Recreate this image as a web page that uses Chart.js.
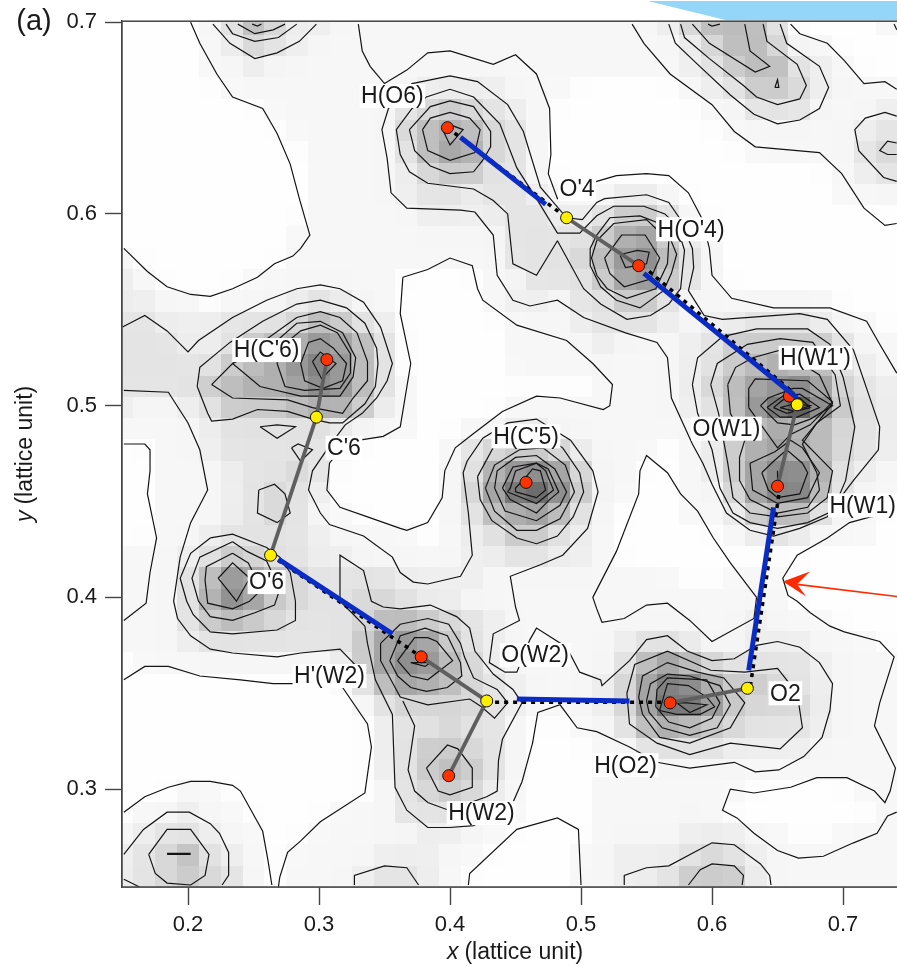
<!DOCTYPE html>
<html>
<head>
<meta charset="utf-8">
<script src="https://cdn.jsdelivr.net/npm/chart.js@4"></script>
<style>
html, body { margin: 0; padding: 0; background: #fff; overflow: hidden; }
canvas { display: block; }
</style>
</head>
<body>
<canvas id="map" width="897" height="966"></canvas>
<script>
// axis ticks, lattice units
const xTicks = [0.2, 0.3, 0.4, 0.5, 0.6, 0.7];
const yTicks = [0.3, 0.4, 0.5, 0.6, 0.7];

// density map, one char per cell (0 = white ... e = dark), top row first
const densityRows = [
"000013642211111111111111124666300001",
"000012432111111111111111112466411000",
"000011211111111111111111112356632100",
"000001111111112222111000001235542111",
"000000011111134543210000000113331112",
"000000001111146764310000000011111123",
"000000000111136874310000000001111134",
"000000000111124553310000000000000123",
"000000000111123323321112210000000111",
"000000000111112222332235531000000000",
"000000001111111111333357852100000000",
"100000001111111111333469a63100000000",
"210000111111100001133358953100000000",
"221101112321100001221335531111111000",
"332223334653200000111233321223332110",
"333223567986300000111121112355555311",
"333335679b96300000111111112356766321",
"333356778a963100000000111124689a8432",
"211235556775210000111111112369cea532",
"111123333321110011221111111236766432",
"001123333310000134554211101257876432",
"0011123343000001379a8411001258aa7321",
"001112343200000148cda511001148bb6311",
"001112343110000136786310001125663110",
"001123333211110123553210000012321110",
"111235433221111122332210000000000000",
"111369864333322221111111110011100000",
"11137a854334432211111111111111100000",
"111356543334665432111111111112111000",
"111233333335898532111112332112221110",
"0111111111258a9642111113686433332111",
"0000000000036876432111248ba755432111",
"0000000000013444432111248cc954442111",
"000000000000233433100113676543332111",
"000000000000235543100011333322221111",
"000000000000235653100011111111111111",
"000110000000134542100011111110000011",
"011211000011133331100011111100000001",
"123321100111112211000011112221100111",
"234632101111222110000112223432111111",
"234543101112332100000112235552111111"
];
const densityGreys = [254, 247, 238, 228, 216, 203, 188, 175, 162, 150, 138, 126, 113, 100, 80];

// contour lines, [x, y] in lattice units
const openContours = [
  // big outer lines
  [[.202,.700],[.209,.689],[.222,.673],[.234,.661],[.257,.655],[.268,.642],[.278,.626],[.285,.608],[.293,.589],[.286,.582],[.280,.578],[.266,.574],[.253,.567],[.234,.561],[.217,.557],[.202,.558],[.184,.562],[.169,.570],[.151,.582]],
  [[.330,.699],[.333,.685],[.339,.677],[.350,.668],[.367,.675],[.383,.684],[.400,.685],[.433,.678],[.450,.683],[.466,.673],[.476,.655],[.477,.631],[.475,.621],[.482,.608],[.495,.612],[.512,.617],[.527,.620],[.550,.621],[.567,.620],[.582,.611],[.592,.598],[.598,.582],[.600,.568],[.615,.556],[.647,.551],[.690,.551],[.718,.544],[.728,.532],[.741,.517]],
  [[.150,.541],[.167,.547],[.184,.539],[.200,.528],[.208,.534],[.234,.546],[.260,.555],[.283,.561],[.301,.563],[.316,.561],[.334,.554],[.347,.541],[.356,.522],[.352,.513],[.344,.504],[.333,.496],[.320,.490],[.308,.479],[.295,.466],[.292,.456],[.301,.444],[.308,.438],[.334,.432],[.356,.421],[.362,.413],[.372,.408],[.383,.407],[.408,.411],[.417,.422],[.414,.444],[.410,.465],[.413,.471],[.425,.483],[.444,.491],[.466,.493],[.492,.482],[.509,.466],[.513,.455],[.505,.436],[.486,.422],[.469,.417],[.446,.411],[.450,.395],[.453,.388],[.433,.381],[.430,.366],[.442,.361],[.451,.361],[.461,.378],[.466,.384],[.489,.374],[.499,.361],[.515,.357],[.516,.354],[.537,.367],[.550,.378],[.566,.380],[.581,.372],[.600,.367],[.617,.368],[.634,.375],[.650,.377],[.667,.374],[.682,.366],[.692,.355],[.690,.341],[.684,.327],[.670,.317],[.651,.310],[.633,.309],[.617,.314],[.583,.311],[.558,.314],[.537,.322],[.512,.330],[.497,.332],[.484,.344],[.467,.340],[.463,.324],[.455,.304],[.448,.293],[.418,.281],[.400,.280],[.383,.280],[.367,.289],[.358,.301],[.356,.339],[.343,.357],[.337,.376],[.335,.385],[.325,.392],[.316,.398],[.316,.422],[.334,.414],[.340,.398],[.349,.395],[.362,.394],[.385,.396],[.405,.390],[.415,.384],[.419,.372],[.433,.360],[.448,.352],[.455,.345],[.440,.326],[.437,.315],[.436,.299],[.428,.296],[.399,.289],[.383,.293],[.373,.299],[.368,.310],[.373,.333],[.364,.346]],
  // left side
  [[.151,.508],[.185,.507],[.200,.491],[.209,.477],[.215,.456],[.202,.439],[.194,.421],[.189,.398],[.192,.389],[.202,.380],[.217,.373],[.234,.371],[.268,.369],[.286,.371],[.316,.373],[.333,.361]],
  [[.151,.480],[.167,.480],[.171,.477],[.171,.466],[.169,.454],[.176,.431],[.171,.413],[.168,.397],[.151,.388]],
  [[.151,.357],[.167,.364],[.185,.364],[.209,.359],[.240,.357],[.265,.355],[.280,.355],[.318,.353],[.337,.334],[.340,.322],[.335,.298],[.301,.283],[.286,.273],[.276,.267],[.270,.254],[.269,.249]],
  // right side, by the arrow
  [[.741,.444],[.721,.442],[.705,.439],[.688,.431],[.665,.422],[.654,.410],[.658,.401],[.665,.398],[.675,.392],[.690,.385],[.701,.382],[.728,.377],[.739,.369],[.728,.345],[.724,.333],[.740,.311],[.736,.299],[.732,.293],[.724,.299],[.703,.306],[.680,.306],[.660,.301],[.632,.298],[.614,.300],[.608,.289],[.619,.285],[.632,.277],[.650,.268],[.666,.264],[.685,.265],[.708,.272],[.726,.277],[.734,.286],[.741,.288]],
  // peak cut by the top edge
  [[.219,.699],[.232,.689],[.251,.681],[.268,.684],[.285,.690],[.298,.699]],
  [[.229,.699],[.234,.694],[.251,.690],[.269,.692],[.283,.699]],
  [[.238,.699],[.251,.694],[.265,.696],[.274,.699]],
  [[.249,.699],[.253,.698],[.256,.699]],
  // top right
  [[.539,.699],[.548,.689],[.568,.673],[.600,.657],[.617,.643],[.633,.635],[.682,.632],[.699,.621],[.716,.603],[.732,.594],[.741,.595]],
  [[.567,.699],[.572,.689],[.589,.678],[.614,.662],[.632,.652],[.650,.647],[.667,.649],[.682,.655],[.689,.666],[.682,.677],[.657,.689],[.652,.699]],
  [[.576,.699],[.579,.692],[.598,.681],[.624,.667],[.634,.661],[.650,.657],[.667,.660],[.672,.667],[.665,.678],[.642,.690],[.639,.699]],
  [[.585,.699],[.598,.689],[.633,.674],[.644,.677],[.629,.685],[.625,.699]],
  [[.597,.699],[.600,.698],[.606,.699]],
  [[.660,.699],[.667,.694],[.688,.689],[.701,.680],[.716,.668],[.732,.669],[.741,.665]],
  [[.739,.699],[.741,.696]],
  [[.741,.651],[.732,.653],[.717,.650],[.709,.644],[.712,.633],[.731,.619],[.741,.617]],
  [[.741,.637],[.734,.638],[.728,.633],[.734,.631],[.741,.631]],
  // cut by the bottom edge
  [[.151,.288],[.167,.296],[.185,.301],[.202,.304],[.217,.304],[.234,.302],[.240,.299],[.257,.278],[.261,.263],[.264,.250]],
  [[.151,.266],[.166,.279],[.184,.288],[.201,.288],[.217,.282],[.224,.277],[.231,.267],[.231,.255],[.226,.250]],
  [[.151,.253],[.163,.249]],
  [[.327,.250],[.327,.255],[.350,.260],[.367,.259],[.376,.250]],
  [[.414,.250],[.415,.256],[.451,.279],[.482,.285],[.498,.279],[.500,.250]],
  [[.533,.250],[.533,.255],[.550,.259],[.567,.260],[.600,.272],[.617,.271],[.637,.261],[.644,.255],[.645,.250]],
  [[.582,.250],[.591,.258],[.600,.261],[.617,.260],[.624,.255],[.623,.250]],
  [[.650,.466],[.650,.459]],
  [[.184,.266],[.202,.266]],
  [[.184,.2665],[.202,.2665]]
];

const closedContours = [
  // long ring from H(O6) round to W1
  [[.353,.655],[.371,.668],[.400,.672],[.421,.669],[.444,.657],[.456,.643],[.469,.614],[.489,.598],[.501,.597],[.512,.606],[.518,.608],[.550,.610],[.567,.606],[.575,.598],[.585,.582],[.586,.572],[.582,.560],[.594,.547],[.608,.545],[.667,.548],[.688,.545],[.708,.529],[.721,.503],[.728,.489],[.727,.477],[.708,.461],[.698,.452],[.688,.442],[.667,.436],[.647,.432],[.629,.435],[.611,.444],[.600,.459],[.593,.470],[.585,.480],[.569,.504],[.566,.525],[.558,.533],[.534,.538],[.502,.546],[.482,.555],[.461,.552],[.448,.555],[.436,.568],[.433,.589],[.419,.601],[.408,.602],[.367,.603],[.355,.611],[.352,.629],[.348,.644]],
  [[.482,.586],[.466,.568],[.448,.574],[.444,.600],[.433,.607],[.418,.613],[.383,.616],[.369,.622],[.362,.631],[.359,.644],[.371,.655],[.382,.661],[.400,.665],[.418,.661],[.438,.647],[.451,.624],[.466,.608],[.482,.590],[.499,.590],[.512,.599],[.525,.604],[.548,.604],[.564,.600],[.573,.594],[.579,.581],[.576,.561],[.567,.553],[.553,.547],[.535,.545],[.515,.553],[.502,.561]],
  // H(O'4)
  [[.512,.589],[.522,.598],[.545,.599],[.564,.594],[.573,.579],[.569,.569],[.563,.560],[.545,.551],[.527,.555],[.515,.562],[.507,.573],[.507,.582]],
  [[.512,.586],[.525,.595],[.550,.597],[.567,.586],[.566,.574],[.557,.561],[.535,.556],[.520,.561],[.512,.568],[.508,.577]],
  [[.518,.577],[.531,.589],[.549,.589],[.560,.577],[.553,.566],[.533,.562],[.522,.569]],
  [[.530,.578],[.534,.572],[.550,.574],[.552,.580],[.543,.581],[.531,.579]],
  // H(O6)
  [[.369,.644],[.373,.633],[.385,.625],[.400,.621],[.418,.622],[.425,.628],[.431,.635],[.431,.643],[.418,.656],[.400,.659],[.385,.656]],
  [[.379,.644],[.383,.633],[.400,.628],[.419,.632],[.423,.644],[.415,.650],[.400,.653],[.385,.650]],
  [[.395,.643],[.400,.636],[.410,.644],[.398,.647]],
  // H(C'6)
  [[.207,.510],[.209,.520],[.232,.533],[.257,.544],[.283,.553],[.301,.555],[.321,.551],[.335,.543],[.344,.530],[.345,.522],[.343,.510],[.335,.501],[.318,.491],[.308,.491],[.295,.493],[.276,.497],[.253,.498],[.234,.493],[.218,.492],[.215,.496]],
  [[.218,.511],[.234,.522],[.283,.546],[.301,.549],[.316,.546],[.329,.538],[.337,.523],[.337,.513],[.326,.504],[.318,.496],[.295,.499],[.276,.503],[.234,.504]],
  [[.234,.522],[.255,.510],[.286,.505],[.316,.505],[.326,.515],[.328,.525],[.318,.538],[.301,.544],[.283,.543],[.263,.531]],
  [[.268,.522],[.274,.510],[.289,.508],[.316,.509],[.324,.517],[.324,.527],[.314,.538],[.301,.542],[.286,.539],[.270,.530]],
  [[.286,.522],[.289,.513],[.303,.509],[.318,.513],[.321,.522],[.311,.530],[.301,.535],[.292,.533]],
  [[.295,.523],[.302,.514],[.313,.522],[.301,.528]],
  [[.255,.489],[.268,.490],[.282,.489],[.268,.483]],
  [[.279,.478],[.284,.480],[.295,.477],[.286,.471]],
  [[.254,.456],[.266,.459],[.274,.454],[.278,.444],[.268,.439],[.253,.444]],
  // white hollow in the middle
  [[.364,.567],[.383,.571],[.400,.577],[.417,.573],[.421,.561],[.425,.555],[.451,.542],[.489,.534],[.509,.522],[.524,.511],[.522,.500],[.517,.498],[.484,.504],[.466,.505],[.440,.497],[.417,.485],[.404,.478],[.396,.466],[.394,.452],[.383,.439],[.367,.435],[.362,.436],[.337,.442],[.316,.447],[.306,.456],[.308,.470],[.316,.477],[.331,.482],[.349,.484],[.362,.489],[.370,.522],[.362,.548]],
  // O'6
  [[.217,.431],[.234,.433],[.260,.426],[.270,.421],[.278,.413],[.282,.398],[.282,.388],[.268,.383],[.234,.381],[.217,.382],[.204,.391],[.199,.398],[.194,.410],[.202,.423]],
  [[.234,.429],[.245,.424],[.260,.419],[.270,.404],[.266,.396],[.251,.392],[.234,.388],[.217,.390],[.208,.398],[.203,.410],[.209,.421]],
  [[.234,.423],[.246,.418],[.256,.404],[.247,.398],[.234,.394],[.215,.397],[.213,.409],[.214,.416]],
  [[.223,.410],[.234,.418],[.247,.410],[.237,.398]],
  // H(C'5)
  [[.421,.463],[.423,.451],[.432,.440],[.451,.431],[.466,.428],[.482,.432],[.494,.442],[.502,.455],[.499,.465],[.486,.478],[.466,.487],[.436,.482]],
  [[.427,.457],[.434,.445],[.451,.435],[.466,.435],[.484,.441],[.495,.455],[.488,.469],[.471,.478],[.453,.477],[.434,.469]],
  [[.434,.457],[.442,.445],[.466,.440],[.484,.448],[.489,.455],[.480,.467],[.466,.474],[.450,.473],[.436,.466]],
  [[.440,.457],[.446,.451],[.466,.444],[.476,.451],[.483,.455],[.475,.467],[.466,.470],[.448,.468]],
  [[.444,.455],[.466,.449],[.479,.456],[.473,.466],[.466,.470],[.450,.466],[.446,.457]],
  [[.450,.455],[.466,.452],[.473,.456],[.469,.466],[.463,.467],[.457,.462],[.450,.457]],
  // W1 double peak
  [[.585,.511],[.589,.496],[.600,.477],[.606,.457],[.616,.444],[.629,.439],[.650,.436],[.673,.439],[.692,.445],[.702,.461],[.709,.489],[.700,.515],[.690,.532],[.673,.540],[.634,.540],[.608,.536],[.589,.525]],
  [[.599,.511],[.605,.496],[.612,.470],[.616,.452],[.629,.444],[.650,.442],[.673,.444],[.688,.452],[.692,.466],[.669,.482],[.680,.491],[.698,.500],[.694,.516],[.677,.533],[.652,.535],[.627,.532],[.604,.522]],
  [[.612,.511],[.614,.496],[.625,.482],[.621,.473],[.621,.461],[.629,.451],[.650,.444],[.673,.447],[.682,.456],[.680,.465],[.669,.480],[.679,.490],[.692,.501],[.682,.516],[.652,.529],[.631,.525],[.618,.520]],
  [[.628,.499],[.650,.478],[.660,.485],[.675,.490],[.692,.502],[.673,.513],[.633,.514],[.628,.509]],
  [[.629,.470],[.631,.456],[.650,.449],[.673,.452],[.682,.465],[.669,.478],[.660,.482],[.648,.476]],
  [[.638,.465],[.643,.456],[.650,.452],[.667,.454],[.673,.465],[.669,.470],[.657,.477],[.647,.471]],
  [[.637,.500],[.650,.491],[.663,.490],[.675,.493],[.692,.500],[.669,.509],[.662,.509],[.643,.504]],
  [[.642,.499],[.652,.494],[.665,.494],[.682,.499],[.667,.506],[.654,.505]],
  [[.647,.499],[.657,.496],[.675,.499],[.667,.504],[.654,.503]],
  [[.652,.499],[.663,.501],[.675,.500],[.663,.497]],
  // lobe left of the blue bond
  [[.634,.400],[.632,.389],[.600,.377],[.583,.388],[.566,.397],[.550,.396],[.533,.389],[.516,.387],[.512,.394],[.509,.400],[.527,.424],[.544,.454],[.545,.466],[.550,.474],[.566,.465],[.576,.454],[.589,.445],[.601,.431],[.614,.418]],
  // H(O2)
  [[.535,.350],[.541,.365],[.566,.372],[.599,.362],[.625,.361],[.650,.363],[.665,.350],[.669,.332],[.652,.321],[.614,.324],[.583,.318],[.558,.324],[.537,.334]],
  [[.544,.348],[.547,.359],[.566,.366],[.589,.361],[.609,.358],[.625,.345],[.614,.332],[.583,.324],[.560,.327],[.547,.339]],
  [[.550,.346],[.553,.355],[.566,.360],[.583,.359],[.606,.354],[.614,.344],[.604,.332],[.583,.328],[.562,.332],[.552,.340]],
  [[.557,.343],[.558,.352],[.566,.358],[.596,.357],[.606,.345],[.600,.337],[.583,.332],[.567,.335]],
  [[.560,.341],[.566,.355],[.582,.354],[.596,.348],[.602,.343],[.591,.339],[.573,.339]],
  [[.573,.345],[.583,.340],[.596,.344],[.581,.345]],
  // H'(W2), H(W2)
  [[.347,.376],[.362,.386],[.383,.389],[.399,.386],[.408,.376],[.411,.369],[.418,.358],[.436,.352],[.444,.345],[.434,.337],[.424,.343],[.415,.347],[.383,.344],[.362,.348],[.347,.367]],
  [[.354,.367],[.362,.380],[.381,.384],[.398,.380],[.408,.366],[.409,.359],[.398,.353],[.382,.351],[.370,.353],[.360,.359]],
  [[.360,.367],[.373,.379],[.383,.379],[.390,.377],[.402,.367],[.383,.357],[.370,.359]],
  [[.370,.366],[.385,.366],[.381,.364]],
  [[.382,.311],[.398,.323],[.406,.321],[.417,.311],[.417,.301],[.400,.297],[.391,.299]],
  // lower left and top right islets
  [[.170,.266],[.184,.279],[.202,.279],[.216,.266],[.213,.255],[.202,.250],[.184,.251],[.175,.256]],
  [[.648,.666],[.650,.670],[.651,.666]]
];

// atoms
const hydrogenAtoms = [[.398,.645],[.544,.573],[.306,.524],[.458,.460],[.659,.505],[.650,.458],[.378,.369],[.399,.307],[.568,.345]];
const heavyAtoms = [[.489,.598],[.298,.494],[.263,.422],[.665,.5005],[.428,.346],[.627,.3526]];

// bonds
const covalentBonds = [
  [[.489,.598],[.544,.573]],
  [[.306,.524],[.298,.494]],
  [[.298,.494],[.263,.422]],
  [[.665,.5005],[.650,.458]],
  [[.378,.369],[.428,.346]],
  [[.428,.346],[.399,.307]],
  [[.568,.345],[.627,.3526]]
];
const hydrogenBonds = [
  [[.408,.640],[.473,.605]],
  [[.548,.569],[.665,.504]],
  [[.647,.447],[.628,.362]],
  [[.537,.346],[.451,.347]],
  [[.356,.381],[.269,.420]]
];
const dottedBonds = [
  [[.398,.645],[.489,.598]],
  [[.552,.570],[.660,.508]],
  [[.652,.458],[.629,.3526]],
  [[.568,.3453],[.428,.3453]],
  [[.263,.422],[.378,.369]]
];

const arrowLine = [[.7412,.4005],[.665,.4068]];
const arrowHead = [[.6542,.4083],[.6748,.4135],[.6649,.4068],[.6718,.4005]];
const cornerWedge = [[.551,.711],[.611,.701],[.7412,.701],[.7412,.711]];

const labelTexts = ["H(O6)", "O'4", "H(O'4)", "H(W1')", "O(W1)", "H(C'6)", "C'6", "H(C'5)", "H(W1)", "O'6", "O(W2)", "H'(W2)", "O2", "H(O2)", "H(W2)"];
const labelX = [.356, .497, .584, .679, .611, .260, .319, .458, .715, .260, .465, .308, .656, .534, .424];
const labelY = [.6615, .613, .592, .525, .488, .529, .478, .484, .448, .408, .370, .359, .350, .3125, .2875];

const FONT = '"Liberation Sans", Arial, sans-serif';
const toPoints = list => list.map(p => ({ x: p[0], y: p[1] }));

function lineSet(points, color, width, order, dash) {
    return {
        data: toPoints(points),
        showLine: true,
        borderColor: color,
        borderWidth: width,
        borderDash: dash || [],
        pointRadius: 0,
        tension: 0,
        order: order
    };
}

const datasets = [];
openContours.forEach(c => datasets.push(lineSet(c, "#141414", 1.2, 9)));
closedContours.forEach(c => datasets.push(lineSet(c.concat([c[0]]), "#141414", 1.2, 9)));
dottedBonds.forEach(b => datasets.push(lineSet(b, "#000", 3.5, 8, [4, 5])));
covalentBonds.forEach(b => datasets.push(lineSet(b, "#5f5f5f", 3.8, 5)));
datasets.push({
    data: toPoints(hydrogenAtoms),
    backgroundColor: "#ff3300",
    borderColor: "#111",
    borderWidth: 1,
    pointRadius: 6,
    order: 4
});
hydrogenBonds.forEach(b => datasets.push(lineSet(b, "#0a2cc4", 5, 3)));
datasets.push({
    data: toPoints(heavyAtoms),
    backgroundColor: "#ffee00",
    borderColor: "#111",
    borderWidth: 1,
    pointRadius: 6,
    order: 2
});
datasets.push(lineSet(arrowLine, "#ff2a00", 1.6, 1));

function fillPolygon(ctx, chart, points, color) {
    const sx = chart.scales.x, sy = chart.scales.y;
    ctx.fillStyle = color;
    ctx.beginPath();
    points.forEach((p, i) => {
        const px = sx.getPixelForValue(p[0]), py = sy.getPixelForValue(p[1]);
        if (i === 0) ctx.moveTo(px, py); else ctx.lineTo(px, py);
    });
    ctx.closePath();
    ctx.fill();
}

// grey of one cell, softened a little with its neighbours
function cellGrey(r, k) {
    const at = (i, j) => {
        const row = densityRows[Math.min(densityRows.length - 1, Math.max(0, i))];
        return densityGreys[parseInt(row[Math.min(row.length - 1, Math.max(0, j))], 16)];
    };
    const around = (at(r - 1, k) + at(r + 1, k) + at(r, k - 1) + at(r, k + 1)) / 4;
    return Math.round(0.75 * at(r, k) + 0.25 * around);
}

const densityMap = {
    id: "densityMap",
    beforeDatasetsDraw(chart) {
        const { ctx, chartArea: a, scales: { x: sx, y: sy } } = chart;
        ctx.save();
        ctx.beginPath();
        ctx.rect(a.left, a.top, a.right - a.left, a.bottom - a.top);
        ctx.clip();
        const last = densityRows.length - 1;
        densityRows.forEach((row, r) => {
            const yc = 0.2546 + (last - r) / 90;
            const top = Math.round(sy.getPixelForValue(yc + 1 / 180));
            const bot = Math.round(sy.getPixelForValue(yc - 1 / 180));
            for (let k = 0; k < row.length; k++) {
                const xc = 0.15 + k / 60;
                const left = Math.round(sx.getPixelForValue(xc - 1 / 120));
                const right = Math.round(sx.getPixelForValue(xc + 1 / 120));
                const g = cellGrey(r, k);
                ctx.fillStyle = "rgb(" + g + "," + g + "," + g + ")";
                ctx.fillRect(left, top, right - left, bot - top);
            }
        });
        ctx.restore();
    },
    afterDatasetsDraw(chart) {
        const { ctx, chartArea: a, scales: { x: sx, y: sy } } = chart;
        ctx.save();
        fillPolygon(ctx, chart, cornerWedge, "#93d6f8");
        fillPolygon(ctx, chart, arrowHead, "#ff2a00");

        ctx.strokeStyle = "#444";
        ctx.lineWidth = 1.5;
        ctx.strokeRect(a.left, a.top, a.right - a.left + 5, a.bottom - a.top);

        ctx.font = "23px " + FONT;
        ctx.textAlign = "center";
        ctx.textBaseline = "middle";
        labelTexts.forEach((t, i) => {
            const px = sx.getPixelForValue(labelX[i]), py = sy.getPixelForValue(labelY[i]);
            const w = ctx.measureText(t).width + 3;
            ctx.fillStyle = "#fff";
            ctx.fillRect(px - w / 2, py - 12, w, 24);
            ctx.fillStyle = "#1a1a1a";
            ctx.fillText(t, px, py + 1);
        });

        // panel letter and axis titles (italic first letter, so not the scale title)
        ctx.fillStyle = "#1a1a1a";
        ctx.font = "29px " + FONT;
        ctx.fillText("(a)", 34, 22);

        ctx.textAlign = "left";
        ctx.font = "italic 23px " + FONT;
        ctx.fillText("x", 447, 953);
        ctx.font = "23px " + FONT;
        ctx.fillText(" (lattice unit)", 458, 953);

        ctx.translate(26, 522);
        ctx.rotate(-Math.PI / 2);
        ctx.font = "italic 23px " + FONT;
        ctx.fillText("y", 0, 0);
        ctx.font = "23px " + FONT;
        ctx.fillText(" (lattice unit)", 11, 0);
        ctx.restore();
    }
};

new Chart(document.getElementById("map"), {
    type: "scatter",
    data: { datasets: datasets },
    plugins: [densityMap],
    options: {
        responsive: false,
        animation: false,
        layout: { autoPadding: false, padding: { top: 20, left: 0, right: 0, bottom: 0 } },
        plugins: { legend: { display: false }, tooltip: { enabled: false } },
        scales: {
            x: {
                type: "linear",
                min: 0.1496,
                max: 0.7412,
                afterBuildTicks: s => { s.ticks = xTicks.map(v => ({ value: v })); },
                afterFit: s => { s.height = 79; s.paddingLeft = 0; s.paddingRight = 0; },
                ticks: {
                    color: "#1a1a1a",
                    padding: 7,
                    maxRotation: 0,
                    font: { family: FONT, size: 22 },
                    callback: v => v.toFixed(1)
                },
                grid: { drawOnChartArea: false, tickLength: 18, tickColor: "#444", tickWidth: 1.4 },
                border: { color: "#444", width: 1.5 }
            },
            y: {
                type: "linear",
                min: 0.24896,
                max: 0.70052,
                afterBuildTicks: s => { s.ticks = yTicks.map(v => ({ value: v })); },
                afterFit: s => { s.width = 122; },
                ticks: {
                    color: "#1a1a1a",
                    padding: 8,
                    font: { family: FONT, size: 22 },
                    callback: v => v.toFixed(1)
                },
                grid: { drawOnChartArea: false, tickLength: 17, tickColor: "#444", tickWidth: 1.4 },
                border: { color: "#444", width: 1.5 }
            }
        }
    }
});
</script>
</body>
</html>
